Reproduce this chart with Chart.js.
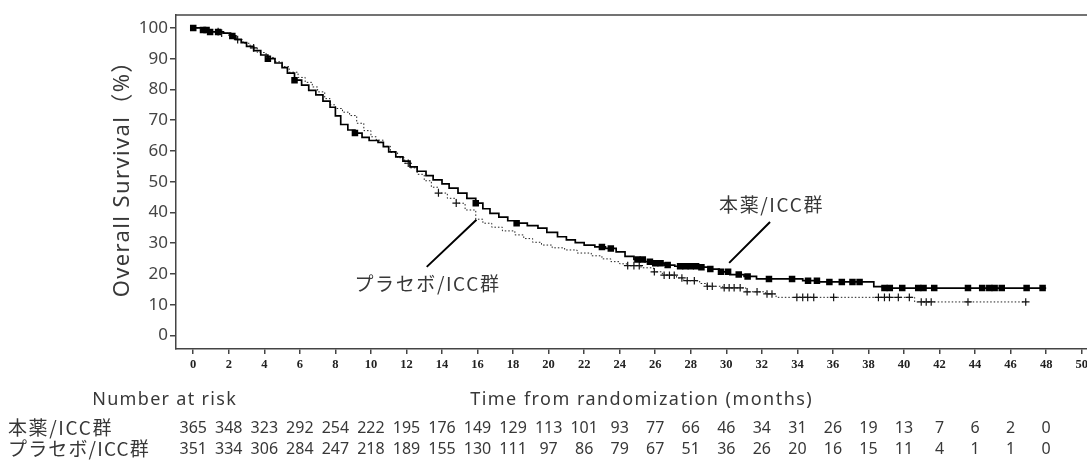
<!DOCTYPE html>
<html>
<head>
<meta charset="utf-8">
<script src="https://cdn.jsdelivr.net/npm/chart.js@4.4.1/dist/chart.umd.min.js"></script>
<style>
  html, body { margin: 0; padding: 0; background: #fff; overflow: hidden; }
  #wrap { width: 1110px; height: 468px; }
</style>
</head>
<body>
<div id="wrap"><canvas id="km" width="1110" height="468"></canvas></div>
<script>
// axis ticks
const monthTicks = [0, 2, 4, 6, 8, 10, 12, 14, 16, 18, 20, 22, 24, 26, 28, 30, 32, 34, 36, 38, 40, 42, 44, 46, 48, 50];
const survivalTicks = [0, 10, 20, 30, 40, 50, 60, 70, 80, 90, 100];

// Kaplan-Meier steps: [month, survival %]
const drugCurve = [
  [0, 100], [0.5, 99.3], [0.9, 98.7], [1.7, 98.3], [2.1, 97.4], [2.4, 96.3], [2.7, 95.2],
  [3.0, 94.0], [3.4, 92.6], [3.8, 91.2], [4.2, 90.0], [4.6, 88.6], [5.0, 87.1], [5.3, 85.3],
  [5.7, 83.0], [6.1, 81.4], [6.5, 79.7], [6.9, 78.2], [7.3, 76.2], [7.7, 74.2], [8.0, 71.4],
  [8.3, 68.6], [8.7, 66.8], [9.1, 65.8], [9.5, 64.4], [9.9, 63.4], [10.4, 62.8], [10.7, 61.4],
  [11.0, 59.7], [11.4, 58.1], [11.8, 56.7], [12.2, 54.8], [12.6, 53.4], [13.1, 52.0], [13.5, 50.6],
  [14.0, 49.3], [14.4, 47.9], [14.9, 46.3], [15.4, 44.6], [15.9, 43.0], [16.3, 41.2], [16.7, 39.7],
  [17.2, 38.5], [17.7, 37.3], [18.2, 36.5], [18.8, 35.7], [19.4, 34.9], [19.9, 33.5], [20.5, 32.1],
  [21.0, 31.1], [21.5, 30.2], [22.0, 29.4], [22.6, 28.8], [23.2, 28.3], [23.8, 27.2], [24.3, 25.7],
  [24.8, 24.7], [25.4, 24.0], [26.0, 23.5], [26.5, 22.9], [27.1, 22.5], [28.6, 22.2], [29.1, 21.6],
  [29.6, 20.7], [30.2, 19.8], [31.0, 19.2], [31.7, 18.4], [34.3, 17.8], [35.2, 17.4], [38.3, 15.9],
  [38.8, 15.4], [48.0, 15.4]
];
const placeboCurve = [
  [0, 100], [0.4, 99.3], [0.9, 98.8], [1.5, 98.3], [2.0, 97.4], [2.4, 96.2], [2.8, 95.0],
  [3.2, 93.5], [3.6, 92.0], [4.1, 90.4], [4.6, 89.0], [5.0, 87.4], [5.4, 85.6], [5.9, 83.9],
  [6.3, 82.3], [6.7, 80.8], [7.0, 79.2], [7.4, 77.0], [7.7, 75.0], [8.0, 73.8], [8.4, 72.6],
  [8.8, 71.5], [9.2, 69.0], [9.6, 66.6], [10.0, 64.6], [10.3, 63.5], [10.7, 61.5], [11.1, 59.5],
  [11.5, 57.8], [11.9, 56.0], [12.2, 54.5], [12.6, 52.4], [13.0, 50.3], [13.4, 48.2], [13.8, 46.3],
  [14.3, 44.6], [14.8, 43.0], [15.3, 40.8], [15.9, 37.8], [16.3, 36.5], [16.8, 35.2], [17.4, 34.0],
  [18.1, 32.7], [18.6, 31.5], [19.1, 30.3], [19.6, 29.4], [20.2, 28.5], [20.9, 27.8], [21.6, 26.8],
  [22.4, 25.9], [23.0, 24.9], [23.5, 24.0], [24.0, 23.3], [24.4, 22.7], [25.2, 22.0], [25.9, 20.7],
  [26.4, 19.6], [27.2, 18.7], [27.6, 17.8], [28.5, 16.9], [28.9, 16.0], [29.8, 15.5], [31.1, 14.2],
  [32.2, 13.5], [32.8, 12.4], [40.6, 10.9], [46.9, 10.9]
];

// censoring times (months)
const drugCensor = [0, 0.55, 0.75, 0.95, 1.4, 2.2, 4.2, 5.7, 9.1, 15.9, 18.2, 23.0, 23.5, 25.0, 25.3,
  25.7, 26.0, 26.3, 26.7, 27.4, 27.7, 28.0, 28.3, 28.6, 29.1, 29.7, 30.1, 30.7, 31.2, 32.4, 33.7,
  34.6, 35.1, 35.8, 36.5, 37.1, 37.5, 38.9, 39.2, 39.9, 40.8, 41.1, 41.7, 43.6, 44.4, 44.8, 45.1,
  45.5, 46.9, 47.8];
const placeboCensor = [1.4, 1.6, 2.5, 3.4, 12.1, 13.8, 14.8, 24.45, 24.8, 25.1, 25.95, 26.5, 26.8,
  27.07, 27.5, 27.8, 28.2, 28.93, 29.21, 29.88, 30.16, 30.44, 30.78, 31.17, 31.73, 32.29, 32.57,
  33.97, 34.3, 34.58, 34.92, 36.04, 38.56, 38.9, 39.18, 39.68, 40.3, 40.97, 41.25, 41.53, 43.6, 46.85];

// number at risk, one per month tick 0..48
const riskDrug = [365, 348, 323, 292, 254, 222, 195, 176, 149, 129, 113, 101, 93, 77, 66, 46, 34, 31, 26, 19, 13, 7, 6, 2, 0];
const riskPlacebo = [351, 334, 306, 284, 247, 218, 189, 155, 130, 111, 97, 86, 79, 67, 51, 36, 26, 20, 16, 15, 11, 4, 1, 1, 0];

const groupNames = ["本薬/ICC群", "プラセボ/ICC群"];

function toPoints(curve) {
  return curve.map(p => ({ x: p[0], y: p[1] }));
}

// survival level of a step curve at time t
function levelAt(curve, t) {
  let v = curve[0][1];
  for (const p of curve) {
    if (p[0] <= t) v = p[1];
  }
  return v;
}

function censorPoints(times, curve) {
  return times.map(t => ({ x: t, y: levelAt(curve, t) }));
}

const JP = '"Noto Sans CJK JP", "Noto Sans", sans-serif';
const LAT = '"Noto Sans", "Noto Sans CJK JP", sans-serif';
const TEXT = '#383838';

function fitText(ctx, str, x, y, width, font, align) {
  ctx.font = font;
  ctx.letterSpacing = '0px';
  const w = ctx.measureText(str).width;
  const ls = (width - w) / [...str].length;
  ctx.letterSpacing = ls + 'px';
  ctx.textAlign = align;
  ctx.fillText(str, align === 'center' ? x + ls / 2 : x, y);
  ctx.letterSpacing = '0px';
}

const decorations = {
  id: 'decorations',
  afterDraw(chart) {
    const ctx = chart.ctx;
    const xs = chart.scales.x;
    const ys = chart.scales.y;
    const area = chart.chartArea;
    ctx.save();

    // top frame line
    ctx.strokeStyle = '#444';
    ctx.lineWidth = 1.5;
    ctx.beginPath();
    ctx.moveTo(area.left, area.top);
    ctx.lineTo(area.right, area.top);
    ctx.stroke();

    // callout lines
    ctx.strokeStyle = '#000';
    ctx.lineWidth = 2;
    ctx.beginPath();
    ctx.moveTo(xs.getPixelForValue(32.46), ys.getPixelForValue(36.9));
    ctx.lineTo(xs.getPixelForValue(30.16), ys.getPixelForValue(23.6));
    ctx.moveTo(xs.getPixelForValue(15.94), ys.getPixelForValue(37.6));
    ctx.lineTo(xs.getPixelForValue(13.14), ys.getPixelForValue(22.3));
    ctx.stroke();

    ctx.fillStyle = TEXT;
    ctx.textBaseline = 'middle';
    fitText(ctx, groupNames[0], xs.getPixelForValue(32.5), ys.getPixelForValue(42.4), 105, '19px ' + JP, 'center');
    fitText(ctx, groupNames[1], xs.getPixelForValue(13.14), ys.getPixelForValue(16.8), 146, '19px ' + JP, 'center');

    // y title
    ctx.save();
    ctx.translate(123, 174);
    ctx.rotate(-Math.PI / 2);
    fitText(ctx, 'Overall Survival（%）', 0, 0, 248, '22px ' + LAT, 'center');
    ctx.restore();

    // x title and risk table
    fitText(ctx, 'Number at risk', 164, 400, 145, '18px ' + LAT, 'center');
    fitText(ctx, 'Time from randomization (months)', 641, 400, 343, '18px ' + LAT, 'center');
    fitText(ctx, groupNames[0], 8, 428, 105, '19px ' + JP, 'left');
    fitText(ctx, groupNames[1], 8, 449, 142, '19px ' + JP, 'left');

    ctx.font = '16px ' + LAT;
    ctx.textAlign = 'center';
    riskDrug.forEach((n, i) => {
      ctx.fillText(String(n), xs.getPixelForValue(monthTicks[i]), 428);
    });
    riskPlacebo.forEach((n, i) => {
      ctx.fillText(String(n), xs.getPixelForValue(monthTicks[i]), 449);
    });
    ctx.restore();
  }
};

new Chart(document.getElementById('km'), {
  type: 'line',
  data: {
    datasets: [
      {
        label: groupNames[0],
        data: toPoints(drugCurve),
        stepped: true,
        borderColor: '#000',
        borderWidth: 1.7,
        pointRadius: 0
      },
      {
        label: groupNames[1],
        data: toPoints(placeboCurve),
        stepped: true,
        borderColor: '#222',
        borderWidth: 1,
        borderDash: [1.5, 2],
        pointRadius: 0
      },
      {
        label: groupNames[0] + ' censored',
        data: censorPoints(drugCensor, drugCurve),
        showLine: false,
        pointStyle: 'rect',
        pointRadius: 4.6,
        backgroundColor: '#000',
        borderColor: '#000',
        borderWidth: 0
      },
      {
        label: groupNames[1] + ' censored',
        data: censorPoints(placeboCensor, placeboCurve),
        showLine: false,
        pointStyle: 'cross',
        pointRadius: 3.8,
        borderColor: '#111',
        borderWidth: 1.2
      }
    ]
  },
  options: {
    responsive: false,
    animation: false,
    layout: { padding: { top: 15, left: 0, right: 0, bottom: 0 } },
    plugins: {
      legend: { display: false },
      tooltip: { enabled: false }
    },
    scales: {
      x: {
        type: 'linear',
        min: -0.97,
        max: 51.3,
        afterBuildTicks: s => { s.ticks = monthTicks.map(v => ({ value: v })); },
        afterFit: s => { s.height = 119; },
        border: { color: '#444', width: 1.5 },
        grid: { drawOnChartArea: false, drawTicks: true, tickLength: 5, color: '#444', lineWidth: 1.5 },
        ticks: {
          padding: 3,
          maxRotation: 0,
          autoSkip: false,
          color: '#222',
          font: { family: '"Liberation Serif", serif', size: 12.5, weight: 'bold' }
        }
      },
      y: {
        min: -4.4,
        max: 104.2,
        afterBuildTicks: s => { s.ticks = survivalTicks.map(v => ({ value: v })); },
        afterFit: s => { s.width = 176; },
        border: { color: '#444', width: 1.5 },
        grid: { drawOnChartArea: false, drawTicks: true, tickLength: 6, color: '#444', lineWidth: 1.5 },
        ticks: {
          padding: 2,
          color: '#444',
          font: { family: LAT, size: 17 }
        }
      }
    }
  },
  plugins: [decorations]
});
</script>
</body>
</html>
